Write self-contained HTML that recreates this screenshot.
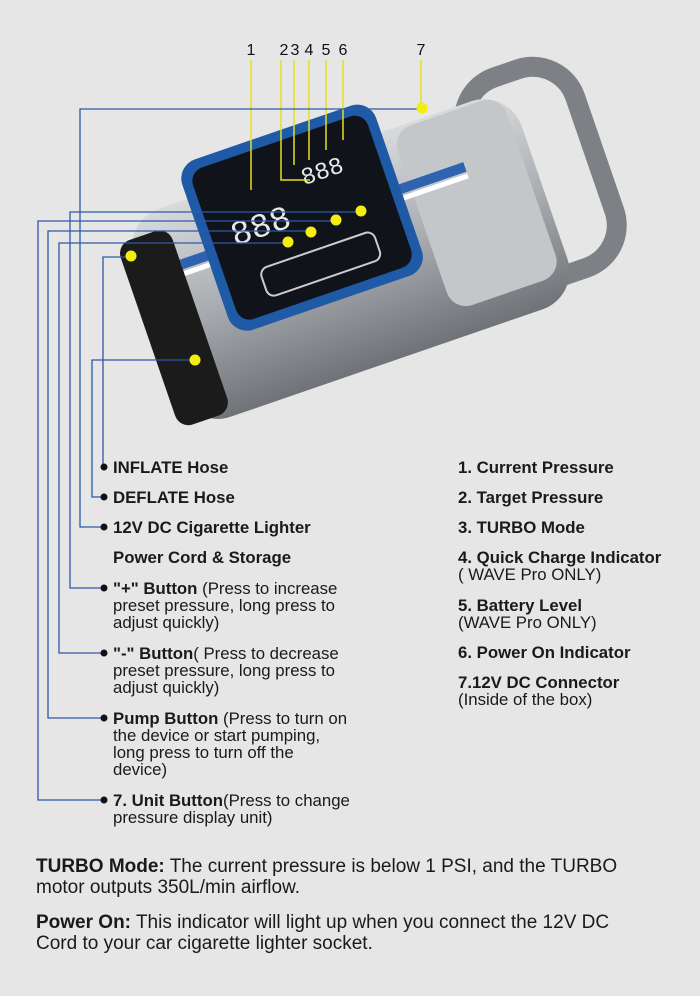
<!DOCTYPE html>
<html><head><meta charset="utf-8"><style>
body{margin:0;width:700px;height:996px;background:#e6e6e6;font-family:"Liberation Sans",sans-serif;color:#1a1a1a;position:relative;overflow:hidden}
.t{position:absolute;font-size:16.8px;line-height:17px;white-space:nowrap}
b{font-weight:bold}
</style></head><body>
<svg width="700" height="996" style="position:absolute;left:0;top:0">
<defs>
<linearGradient id="bg" x1="0" y1="0" x2="0" y2="1"><stop offset="0" stop-color="#d8dadc"/><stop offset="0.5" stop-color="#a9adb1"/><stop offset="1" stop-color="#6f7377"/></linearGradient>
</defs>
<g transform="rotate(-19 360 240)">
<rect x="495" y="130" width="115" height="210" rx="45" fill="none" stroke="#7d8185" stroke-width="20"/>
<rect x="140" y="145" width="410" height="220" rx="40" fill="url(#bg)"/>
<rect x="425" y="148" width="115" height="190" rx="20" fill="#c4c7ca"/>
<rect x="128" y="165" width="55" height="195" rx="14" fill="#1b1b1b"/>
<rect x="183" y="200" width="300" height="10" fill="#2f63b0"/>
<rect x="183" y="212" width="300" height="5" fill="#fff"/>
<rect x="210" y="110" width="205" height="180" rx="20" fill="#1f5aa6"/>
<rect x="220" y="120" width="185" height="160" rx="14" fill="#10131a"/>
<rect x="255" y="235" width="120" height="30" rx="8" fill="none" stroke="#ccc" stroke-width="2"/>
<text x="240" y="205" fill="#e8e8e8" font-size="34" font-family="Liberation Mono">888</text>
<text x="325" y="170" fill="#e8e8e8" font-size="24" font-family="Liberation Mono">888</text>
</g>
<g fill="none" stroke="#e6e01c" stroke-width="1.5">
<line x1="251" y1="60" x2="251" y2="190"/>
<polyline points="281,60 281,180 310,180"/>
<line x1="294" y1="60" x2="294" y2="165"/>
<line x1="309" y1="60" x2="309" y2="160"/>
<line x1="326" y1="60" x2="326" y2="150"/>
<line x1="343" y1="60" x2="343" y2="140"/>
<line x1="421" y1="60" x2="421" y2="105"/>
</g>
<g fill="none" stroke="#2e5aa8" stroke-width="1.3">
<polyline points="422,109 80,109 80,527 104,527"/>
<polyline points="361,212 70,212 70,588 104,588"/>
<polyline points="336,221 38,221 38,800 104,800"/>
<polyline points="311,231 48,231 48,718 104,718"/>
<polyline points="288,243 59,243 59,653 104,653"/>
<polyline points="195,360 92,360 92,497 104,497"/>
<polyline points="131,257 103,257 103,467"/>
</g>
<g fill="#f4ee10"><circle cx="422" cy="108" r="5.5"/><circle cx="361" cy="211" r="5.5"/><circle cx="336" cy="220" r="5.5"/><circle cx="311" cy="232" r="5.5"/><circle cx="288" cy="242" r="5.5"/><circle cx="195" cy="360" r="5.5"/><circle cx="131" cy="256" r="5.5"/></g>
<g fill="#111"><circle cx="104" cy="467" r="3.5"/><circle cx="104" cy="497" r="3.5"/><circle cx="104" cy="527" r="3.5"/><circle cx="104" cy="588" r="3.5"/><circle cx="104" cy="653" r="3.5"/><circle cx="104" cy="718" r="3.5"/><circle cx="104" cy="800" r="3.5"/></g>
<g font-size="16" fill="#111" font-family="Liberation Sans" text-anchor="middle">
<text x="251" y="55">1</text><text x="284" y="55">2</text><text x="295" y="55">3</text><text x="309" y="55">4</text><text x="326" y="55">5</text><text x="343" y="55">6</text><text x="421" y="55">7</text>
</g>
</svg>
<div class="t" style="left:113px;top:459px"><b>INFLATE Hose</b></div>
<div class="t" style="left:113px;top:489px"><b>DEFLATE Hose</b></div>
<div class="t" style="left:113px;top:519px"><b>12V DC Cigarette Lighter</b></div>
<div class="t" style="left:113px;top:549px"><b>Power Cord &amp; Storage</b></div>
<div class="t" style="left:113px;top:580px"><b>"+" Button</b> (Press to increase<br>preset pressure, long press to<br>adjust quickly)</div>
<div class="t" style="left:113px;top:645px"><b>"-" Button</b>( Press to decrease<br>preset pressure, long press to<br>adjust quickly)</div>
<div class="t" style="left:113px;top:710px"><b>Pump Button</b> (Press to turn on<br>the device or start pumping,<br>long press to turn off the<br>device)</div>
<div class="t" style="left:113px;top:792px"><b>7. Unit Button</b>(Press to change<br>pressure display unit)</div>
<div class="t" style="left:458px;top:459px"><b>1. Current Pressure</b></div>
<div class="t" style="left:458px;top:489px"><b>2. Target Pressure</b></div>
<div class="t" style="left:458px;top:519px"><b>3. TURBO Mode</b></div>
<div class="t" style="left:458px;top:549px"><b>4. Quick Charge Indicator</b><br>( WAVE Pro ONLY)</div>
<div class="t" style="left:458px;top:597px"><b>5. Battery Level</b><br>(WAVE Pro ONLY)</div>
<div class="t" style="left:458px;top:644px"><b>6. Power On Indicator</b></div>
<div class="t" style="left:458px;top:674px"><b>7.12V DC Connector</b><br>(Inside of the box)</div>
<div class="t" style="left:36px;top:856px;font-size:19px;line-height:21px"><b>TURBO Mode:</b> The current pressure is below 1 PSI, and the TURBO<br>motor outputs 350L/min airflow.</div>
<div class="t" style="left:36px;top:912px;font-size:19px;line-height:21px"><b>Power On:</b> This indicator will light up when you connect the 12V DC<br>Cord to your car cigarette lighter socket.</div>
</body></html>
